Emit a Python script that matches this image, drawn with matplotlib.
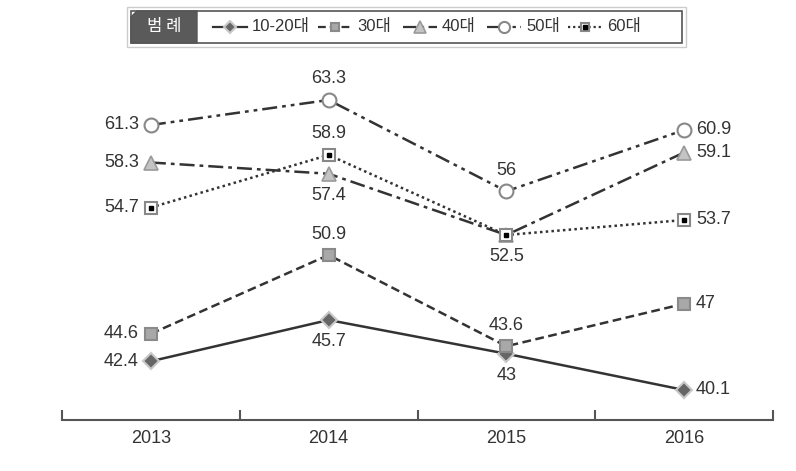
import matplotlib.pyplot as plt
from matplotlib.lines import Line2D
from matplotlib.patches import Polygon, Rectangle

# 데이터
years = ['2013', '2014', '2015', '2016']
series_names = ['10-20대', '30대', '40대', '50대', '60대']
age_10_20 = [42.4, 45.7, 43, 40.1]
age_30 = [44.6, 50.9, 43.6, 47]
age_40 = [58.3, 57.4, 52.5, 59.1]
age_50 = [61.3, 63.3, 56, 60.9]
age_60 = [54.7, 58.9, 52.5, 53.7]

# 라벨 위치 (None 이면 표시 안 함)
label_pos = {
    '10-20대': ['left', 'below', 'below', 'right'],
    '30대': ['left', 'above', 'above', 'right'],
    '40대': ['left', 'below', None, 'right'],
    '50대': ['left', 'above', 'above', 'right'],
    '60대': ['left', 'above', 'below', 'right'],
}

W, H = 796, 471
fig = plt.figure(figsize=(W / 100, H / 100), dpi=100)
ax = fig.add_axes([62 / W, (H - 420) / H, (773 - 62) / W, 370 / H])
ax.set_xlim(-0.5, 3.5)
ax.set_ylim(37.7, 67.3)

LINE = '#333333'
styles = {
    '10-20대': dict(ls='-', marker='D', ms=8, mfc='#666666', mec='#c8c8c8', mew=1.5),
    '30대': dict(ls=(0, (3.5, 1.8)), marker='s', ms=8, mfc='#a8a8a8', mec='#8a8a8a', mew=1.5),
    '40대': dict(ls=(0, (6, 2, 1.5, 2)), marker='^', ms=10, mfc='#c4c4c4', mec='#9a9a9a', mew=1.2),
    '50대': dict(ls=(0, (6, 2, 1.5, 2, 1.5, 2)), marker='o', ms=10, mfc='white', mec='#888888', mew=1.5),
    '60대': dict(ls=(0, (1, 1.3)), marker='s', ms=8, mfc='white', mec='#888888', mew=1.5),
}

x = list(range(len(years)))
all_values = [age_10_20, age_30, age_40, age_50, age_60]
font = ['Liberation Sans', 'Noto Sans CJK KR']
for name, vals in zip(series_names, all_values):
    st = styles[name]
    ax.plot(x, vals, color=LINE, lw=1.8, ls=st['ls'], marker=st['marker'],
            ms=st['ms'], mfc=st['mfc'], mec=st['mec'], mew=st['mew'], zorder=3)
    if name == '60대':
        ax.plot(x, vals, ls='none', marker='s', ms=3, color='black', zorder=4)
    for xi, v, pos in zip(x, vals, label_pos[name]):
        if pos is None:
            continue
        off = {'left': (-12, 0), 'right': (12, 0), 'above': (0, 21), 'below': (0, -22)}[pos]
        ha = {'left': 'right', 'right': 'left', 'above': 'center', 'below': 'center'}[pos]
        ax.annotate(f'{v:g}', (xi, v), xytext=off, textcoords='offset pixels',
                    ha=ha, va='center', fontsize=13, color='#333333', family=font)

# 축
for s in ['top', 'left', 'right']:
    ax.spines[s].set_visible(False)
ax.spines['bottom'].set_color('#555555')
ax.spines['bottom'].set_linewidth(1.5)
ax.set_yticks([])
ax.set_xticks(x)
ax.set_xticklabels(years, fontsize=13, color='#333333', family=font)
ax.tick_params(axis='x', which='major', length=0, pad=7)
ax.set_xticks([-0.5, 0.5, 1.5, 2.5, 3.5], minor=True)
ax.tick_params(axis='x', which='minor', direction='in', length=7, width=1.5, color='#555555')

# 범례 상자
def fx(px):
    return px / W

def fy(py):
    return 1 - py / H

outer = Rectangle((fx(127), fy(47)), fx(559), 40 / H, transform=fig.transFigure,
                  fc='white', ec='#cccccc', lw=1)
fig.patches.append(outer)
box = Rectangle((fx(131), fy(43)), fx(551), 32 / H, transform=fig.transFigure,
                fc='white', ec='#555555', lw=1.2)
fig.patches.append(box)
dark = Polygon([(fx(131), fy(43)), (fx(131), fy(17)), (fx(137), fy(11)),
                (fx(197), fy(11)), (fx(197), fy(43))], closed=True,
               transform=fig.transFigure, fc='#5a5a5a', ec='#555555', lw=1)
fig.patches.append(dark)
fig.text(fx(164), fy(27), '범 례', ha='center', va='center', color='white',
         fontsize=12, family=['Noto Sans CJK KR'])

legend_x = [213, 318, 403, 487, 568]
for name, lx in zip(series_names, legend_x):
    st = styles[name]
    ly = fy(27)
    fig.add_artist(Line2D([fx(lx), fx(lx + 34)], [ly, ly], transform=fig.transFigure,
                          color=LINE, lw=1.6, ls=st['ls']))
    fig.add_artist(Line2D([fx(lx + 17)], [ly], transform=fig.transFigure, ls='none',
                          marker=st['marker'], ms=st['ms'] * 0.8, mfc=st['mfc'],
                          mec=st['mec'], mew=st['mew']))
    if name == '60대':
        fig.add_artist(Line2D([fx(lx + 17)], [ly], transform=fig.transFigure, ls='none',
                              marker='s', ms=2.5, color='black'))
    fig.text(fx(lx + 39), ly, name, ha='left', va='center', fontsize=12,
             color='#333333', family=font)

fig.savefig('out.png', dpi=100)
